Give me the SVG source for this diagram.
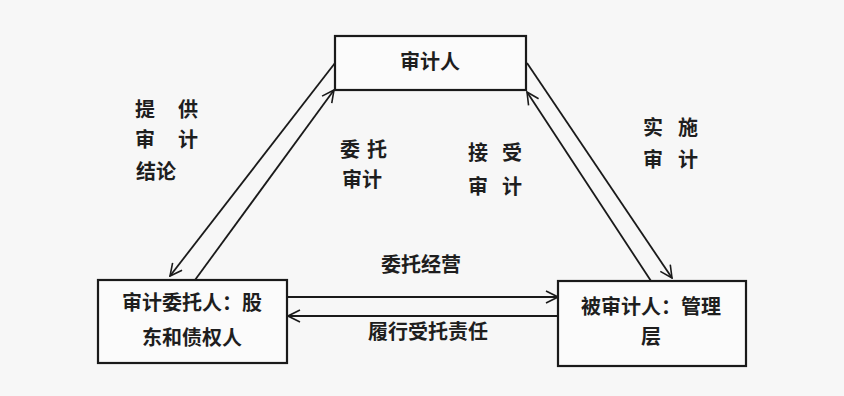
<svg xmlns="http://www.w3.org/2000/svg" width="844" height="396" viewBox="0 0 844 396">
<defs>
<marker id="ah" viewBox="0 0 14 14" refX="13" refY="7" markerWidth="14" markerHeight="14" markerUnits="userSpaceOnUse" orient="auto">
<path d="M1,1 L13,7 L1,13" fill="none" stroke="#1a1a1a" stroke-width="1.6"/>
</marker>
<style>
.box{fill:#fbfbfb;stroke:#1a1a1a;stroke-width:2.2}
.ln{fill:none;stroke:#1a1a1a;stroke-width:1.8}
.t{font-family:"Noto Sans CJK SC","Noto Sans CJK JP",sans-serif;font-size:20px;font-weight:bold;fill:#1e1e1e}
.c{text-anchor:middle}
</style>
</defs>
<rect x="0" y="0" width="844" height="396" fill="#f7f7f7"/>
<g id="connectors">
<line class="ln" x1="335" y1="63" x2="170" y2="276" marker-end="url(#ah)"/>
<line class="ln" x1="195" y1="280" x2="334" y2="90" marker-end="url(#ah)"/>
<line class="ln" x1="527" y1="63" x2="672" y2="278" marker-end="url(#ah)"/>
<line class="ln" x1="651" y1="281" x2="527" y2="92" marker-end="url(#ah)"/>
<line class="ln" x1="287" y1="297" x2="558" y2="297" marker-end="url(#ah)"/>
<line class="ln" x1="558" y1="316" x2="288" y2="316" marker-end="url(#ah)"/>
</g>
<g id="auditor">
<rect class="box" x="335" y="36" width="191" height="54"/>
<text class="t c" x="430" y="69">审计人</text>
</g>
<g id="client">
<rect class="box" x="98" y="280" width="189" height="83"/>
<text class="t c" x="192" y="310">审计委托人：股</text>
<text class="t c" x="192" y="345">东和债权人</text>
</g>
<g id="auditee">
<rect class="box" x="558" y="281" width="188" height="85"/>
<text class="t c" x="651" y="314">被审计人：管理</text>
<text class="t c" x="651" y="344">层</text>
</g>
<g id="labels">
<text class="t c" x="145" y="117">提</text>
<text class="t c" x="188" y="117">供</text>
<text class="t c" x="145" y="147">审</text>
<text class="t c" x="188" y="147">计</text>
<text class="t c" x="156" y="179">结论</text>
<text class="t c" x="350" y="157">委</text>
<text class="t c" x="377" y="157">托</text>
<text class="t c" x="362" y="187">审计</text>
<text class="t c" x="478" y="160">接</text>
<text class="t c" x="512" y="160">受</text>
<text class="t c" x="478" y="194">审</text>
<text class="t c" x="512" y="194">计</text>
<text class="t c" x="653" y="135">实</text>
<text class="t c" x="688" y="135">施</text>
<text class="t c" x="653" y="167">审</text>
<text class="t c" x="688" y="167">计</text>
<text class="t c" x="421" y="272">委托经营</text>
<text class="t c" x="428" y="339">履行受托责任</text>
</g>
</svg>
